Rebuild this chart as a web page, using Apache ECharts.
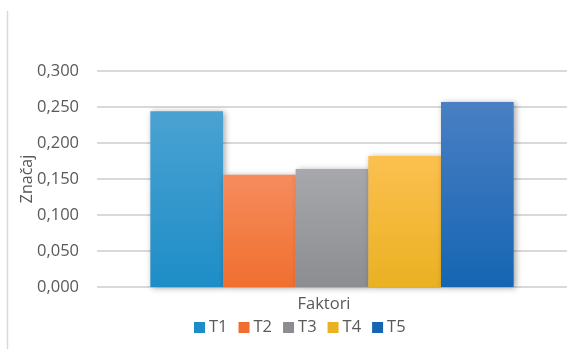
<!DOCTYPE html>
<html>
<head>
<meta charset="utf-8">
<script src="https://cdn.jsdelivr.net/npm/echarts@6/dist/echarts.min.js"></script>
<style>
  html, body { margin: 0; padding: 0; background: #fff; }
  #chart { width: 576px; height: 349px; }
</style>
</head>
<body>
<div id="chart"></div>
<script>
// Importance of each factor group
const categories = ['Faktori'];
const seriesNames = ['T1', 'T2', 'T3', 'T4', 'T5'];
const values = [0.244, 0.156, 0.164, 0.182, 0.257];
const yTicks = { min: 0, max: 0.3, interval: 0.05 };

// top / bottom colours of each bar's vertical gradient
const colorsTop = ['#4aa2d2', '#f68c5e', '#a7a8ab', '#fcc050', '#4a7fc3'];
const colorsBottom = ['#1e8dc7', '#f06f2e', '#8c8d91', '#eab122', '#1565b3'];

const font = '"Open Sans", "Noto Sans", sans-serif';
const textColor = '#595959';

const chart = echarts.init(document.getElementById('chart'), null, { renderer: 'canvas' });

const series = seriesNames.map((name, i) => ({
  name: name,
  type: 'bar',
  data: [values[i]],
  barGap: '0%',
  barCategoryGap: '22.7%',
  itemStyle: {
    color: new echarts.graphic.LinearGradient(0, 0, 0, 1, [
      { offset: 0, color: colorsTop[i] },
      { offset: 1, color: colorsBottom[i] }
    ]),
    shadowBlur: 6,
    shadowColor: 'rgba(0,0,0,0.35)',
    shadowOffsetX: 2,
    shadowOffsetY: 1
  }
}));

chart.setOption({
  animation: false,
  color: colorsBottom,
  grid: { left: 97, right: 9, top: 71, bottom: 62, containLabel: false },
  graphic: [{
    type: 'line',
    shape: { x1: 7.5, y1: 11, x2: 7.5, y2: 349 },
    style: { stroke: '#d9d9d9', lineWidth: 1.5 }
  }],
  legend: {
    data: seriesNames.map((n, i) => ({ name: n, itemStyle: { color: colorsBottom[i] } })),
    top: 319,
    left: 194,
    padding: 0,
    itemWidth: 11,
    itemHeight: 11,
    itemGap: 11,
    icon: 'rect',
    textStyle: { fontFamily: font, fontSize: 16.5, color: textColor, padding: [0, 0, 0, -1] }
  },
  xAxis: {
    type: 'category',
    data: categories,
    name: 'Faktori',
    nameLocation: 'middle',
    nameGap: 9,
    nameTextStyle: {
      fontFamily: font, fontSize: 16.5, color: textColor,
      verticalAlign: 'top', padding: [0, 16, 0, 0]
    },
    axisLine: { show: false },
    axisTick: { show: false },
    axisLabel: { show: false }
  },
  yAxis: {
    type: 'value',
    min: yTicks.min,
    max: yTicks.max,
    interval: yTicks.interval,
    name: 'Značaj',
    nameLocation: 'middle',
    nameGap: 62,
    nameMoveOverlap: false,
    nameTextStyle: { fontFamily: font, fontSize: 16, color: textColor },
    axisLine: { show: false },
    axisTick: { show: false },
    axisLabel: {
      fontFamily: font, fontSize: 16.5, color: textColor, margin: 18,
      formatter: v => v.toFixed(3).replace('.', ',')
    },
    splitLine: { lineStyle: { color: '#d9d9d9', width: 2 } }
  },
  series: series
});
</script>
</body>
</html>
